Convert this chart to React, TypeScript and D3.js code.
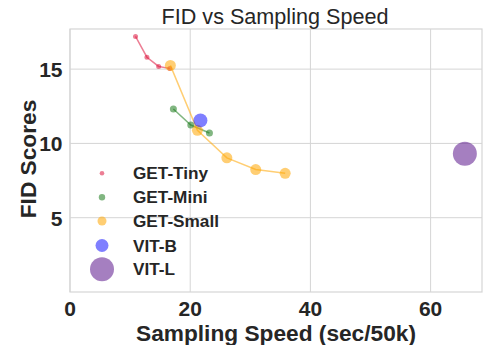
import React from "react";
import * as d3 from "d3";

const tinySpeed = [10.9, 12.8, 14.75, 16.6];
const tinyFid = [17.2, 15.8, 15.18, 15.05];
const miniSpeed = [17.2, 20.1, 23.2];
const miniFid = [12.32, 11.24, 10.7];
const smallSpeed = [16.7, 21.2, 26.1, 30.9, 35.8];
const smallFid = [15.25, 10.88, 9.03, 8.24, 7.99];
const vitBSpeed = [21.7];
const vitBFid = [11.55];
const vitLSpeed = [65.7];
const vitLFid = [9.3];
const xTicks = [0, 20, 40, 60];
const yTicks = [5, 10, 15];

const series = [
  { name: "GET-Tiny", xs: tinySpeed, ys: tinyFid, color: "#dc143c", r: 2.5, lr: 2.3, line: true, op: 0.55 },
  { name: "GET-Mini", xs: miniSpeed, ys: miniFid, color: "#1a7a1a", r: 3.5, lr: 3.2, line: true, op: 0.55 },
  { name: "GET-Small", xs: smallSpeed, ys: smallFid, color: "#ffa500", r: 5.5, lr: 4.5, line: true, op: 0.55 },
  { name: "VIT-B", xs: vitBSpeed, ys: vitBFid, color: "#0000ff", r: 7, lr: 6.5, line: false, op: 0.5 },
  { name: "VIT-L", xs: vitLSpeed, ys: vitLFid, color: "#4b0082", r: 12, lr: 12, line: false, op: 0.5 },
];

export default function App() {
  const W = 484, H = 345;
  const left = 70, right = 482, top = 29, bottom = 292;
  const x = d3.scaleLinear().domain([0, 68.55]).range([left, right]);
  const y = d3.scaleLinear().domain([0, 17.7]).range([bottom, top]);
  const font = "'Liberation Sans', Arial, sans-serif";
  const legendY = [173.3, 197.3, 221, 245.5, 269.3];
  return (
    <svg width={W} height={H} style={{ position: "absolute", left: 0, top: 0 }}>
      <rect x={0} y={0} width={W} height={H} fill="#fff" />
      {xTicks.map((t) => (
        <line key={"gx" + t} x1={x(t)} x2={x(t)} y1={top} y2={bottom} stroke="#d5d5d5" strokeWidth={1} />
      ))}
      {yTicks.map((t) => (
        <line key={"gy" + t} x1={left} x2={right} y1={y(t)} y2={y(t)} stroke="#d5d5d5" strokeWidth={1} />
      ))}
      <rect x={left} y={top} width={right - left} height={bottom - top} fill="none" stroke="#d5d5d5" strokeWidth={1.2} />
      {series.map((s) => {
        const pts = s.xs.map((v, i) => [x(v), y(s.ys[i])] as [number, number]);
        const path = d3.line()(pts);
        return (
          <g key={s.name}>
            {s.line && <path d={path || ""} fill="none" stroke={s.color} strokeOpacity={s.op} strokeWidth={1.5} />}
            {pts.map((p, i) => (
              <circle key={i} cx={p[0]} cy={p[1]} r={s.r} fill={s.color} fillOpacity={s.op} />
            ))}
          </g>
        );
      })}
      {series.map((s, i) => (
        <g key={"lg" + s.name}>
          <circle cx={102} cy={legendY[i]} r={s.lr} fill={s.color} fillOpacity={s.op} />
          <text x={133} y={legendY[i] + 6} fontFamily={font} fontWeight="bold" fontSize={17.2} fill="#262626">{s.name}</text>
        </g>
      ))}
      {xTicks.map((t) => (
        <text key={"tx" + t} x={x(t)} y={316} textAnchor="middle" fontFamily={font} fontWeight="bold" fontSize={21} fill="#262626">{t}</text>
      ))}
      {yTicks.map((t) => (
        <text key={"ty" + t} x={62.5} y={y(t) + 8} textAnchor="end" fontFamily={font} fontWeight="bold" fontSize={21} fill="#262626">{t}</text>
      ))}
      <text x={276} y={341} textAnchor="middle" fontFamily={font} fontWeight="bold" fontSize={22.7} fill="#262626">Sampling Speed (sec/50k)</text>
      <text transform={`translate(36,159) rotate(-90)`} textAnchor="middle" fontFamily={font} fontWeight="bold" fontSize={22.7} fill="#262626">FID Scores</text>
      <text x={275} y={23.5} textAnchor="middle" fontFamily={font} fontSize={21.6} fill="#262626">FID vs Sampling Speed</text>
    </svg>
  );
}
